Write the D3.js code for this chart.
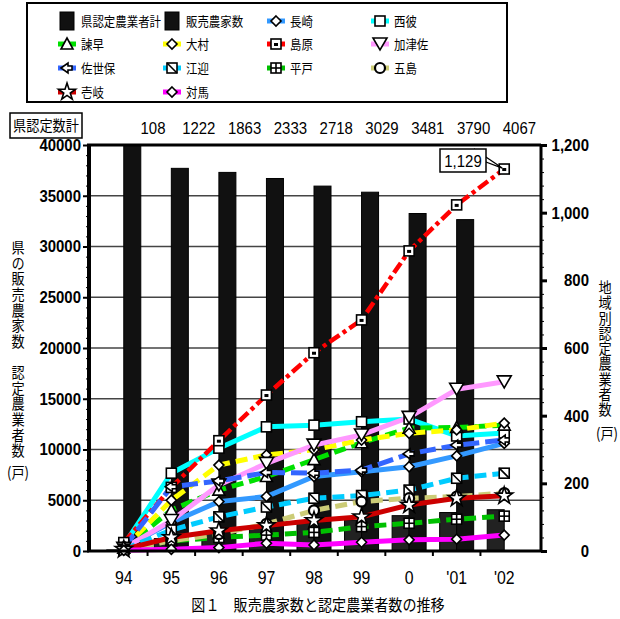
<!DOCTYPE html>
<html>
<head>
<meta charset="utf-8">
<script src="https://cdn.jsdelivr.net/npm/d3@7"></script>
<style>
  body { margin: 0; background: #fff; }
  text { font-family: "Liberation Sans", Arial, "Noto Sans CJK JP", sans-serif; }
  .jp { font-family: "Noto Sans CJK JP", sans-serif; }
  .vert { writing-mode: vertical-rl; text-orientation: upright; }
</style>
</head>
<body>
<svg id="chart" width="620" height="619"></svg>
<script>
// ---- data ----
const years = ["94", "95", "96", "97", "98", "99", "0", "'01", "'02"];
const certTotal = [108, 1222, 1863, 2333, 2718, 3029, 3481, 3790, 4067];
const salesFarms = [40000, 37700, 37300, 36700, 35950, 35350, 33250, 32650, null];

const nagasaki = [10, 84, 146, 161, 220, 234, 249, 281, 318];
const seihi = [17, 230, 304, 367, 372, 382, 390, 340, 349];
const isahaya = [8, 121, 180, 220, 270, 320, 363, 365, 372];
const omura = [8, 150, 254, 284, 299, 328, 348, 358, 378];
const shimabara = [25, 188, 326, 461, 586, 683, 887, 1023, 1129];
const kazusa = [8, 90, 195, 259, 313, 343, 395, 478, 500];
const sasebo = [10, 190, 207, 232, 230, 239, 287, 313, 328];
const emukae = [5, 62, 101, 130, 156, 164, 180, 215, 230];
const hirado = [5, 30, 40, 47, 55, 72, 82, 94, 103];
const goto = [5, 30, 50, 80, 120, 146, 156, 161, 171];
const iki = [5, 40, 60, 75, 90, 101, 136, 156, 163];
const tsushima = [2, 5, 10, 23, 18, 26, 33, 35, 47];

const leftTicks = [0, 5000, 10000, 15000, 20000, 25000, 30000, 35000, 40000];
const rightTicks = [0, 200, 400, 600, 800, 1000, 1200];

// ---- series table ----
let series = [
  { name: "長崎", values: nagasaki, color: "#3399ff", dash: null, marker: "diamond" },
  { name: "西彼", values: seihi, color: "#00ffff", dash: null, marker: "square" },
  { name: "諫早", values: isahaya, color: "#00e000", dash: "12,6", marker: "triUp" },
  { name: "大村", values: omura, color: "#ffff00", dash: "12,6", marker: "diamond" },
  { name: "島原", values: shimabara, color: "#ff0000", dash: "12,4,4,4", marker: "squareDot" },
  { name: "加津佐", values: kazusa, color: "#ff99ff", dash: null, marker: "triDown" },
  { name: "佐世保", values: sasebo, color: "#3366ff", dash: "16,6", marker: "arrow" },
  { name: "江迎", values: emukae, color: "#00ccff", dash: "12,6", marker: "squareSlash" },
  { name: "平戸", values: hirado, color: "#00c000", dash: "12,6", marker: "squareCross" },
  { name: "五島", values: goto, color: "#cccc77", dash: "12,6", marker: "octagon" },
  { name: "壱岐", values: iki, color: "#cc0000", dash: null, marker: "star" },
  { name: "対馬", values: tsushima, color: "#ff00ff", dash: null, marker: "diamond" }
];

const svg = d3.select('#chart');
const plot = { left: 89, right: 541, top: 145, bottom: 551 };

let x = d3.scaleBand().domain(years).range([100, 528]);
let yLeft = d3.scaleLinear().domain([0, 40000]).range([plot.bottom, plot.top]);
let yRight = d3.scaleLinear().domain([0, 1200]).range([plot.bottom, plot.top]);
const cx = d => x(d) + x.bandwidth() / 2;
const barW = 17;

// gridlines
svg.append('g').selectAll('line')
  .data(leftTicks.filter(t => t > 0 && t < 40000))
  .join('line')
  .attr('x1', plot.left).attr('x2', plot.right)
  .attr('y1', d => yLeft(d)).attr('y2', d => yLeft(d))
  .attr('stroke', '#444').attr('stroke-width', 1.6);

// bars
let bars = svg.append('g');
bars.selectAll('rect.cert')
  .data(years.map((y, i) => ({ y, v: certTotal[i] })))
  .join('rect').classed('cert', true)
  .attr('x', d => cx(d.y) - barW).attr('width', barW)
  .attr('y', d => yLeft(d.v)).attr('height', d => plot.bottom - yLeft(d.v))
  .attr('fill', '#222').attr('stroke', '#000').attr('stroke-width', 1);
bars.selectAll('rect.sales')
  .data(years.map((y, i) => ({ y, v: salesFarms[i] })).filter(d => d.v != null))
  .join('rect').classed('sales', true)
  .attr('x', d => cx(d.y)).attr('width', barW)
  .attr('y', d => yLeft(d.v)).attr('height', d => plot.bottom - yLeft(d.v))
  .attr('fill', '#111').attr('stroke', '#000').attr('stroke-width', 1);

// markers
function drawMarker(g, type, mx, my) {
  let m = g.append('g').attr('transform', `translate(${mx},${my})`);
  const st = s => s.attr('fill', '#fff').attr('stroke', '#000').attr('stroke-width', 1.6);
  if (type === 'diamond') {
    st(m.append('path').attr('d', 'M0,-5L5,0L0,5L-5,0Z'));
  } else if (type === 'square' || type === 'squareDot' || type === 'squareSlash' || type === 'squareCross') {
    st(m.append('rect').attr('x', -5).attr('y', -5).attr('width', 10).attr('height', 10));
    if (type === 'squareDot') m.append('rect').attr('x', -2).attr('y', -1).attr('width', 4).attr('height', 3).attr('fill', '#000');
    if (type === 'squareSlash') m.append('line').attr('x1', -5).attr('y1', -5).attr('x2', 5).attr('y2', 5).attr('stroke', '#000').attr('stroke-width', 1.6);
    if (type === 'squareCross') {
      m.append('line').attr('x1', 0).attr('y1', -5).attr('x2', 0).attr('y2', 5).attr('stroke', '#000').attr('stroke-width', 1.6);
      m.append('line').attr('x1', -5).attr('y1', 0).attr('x2', 5).attr('y2', 0).attr('stroke', '#000').attr('stroke-width', 1.6);
    }
  } else if (type === 'triUp') {
    st(m.append('path').attr('d', 'M0,-6L6,5L-6,5Z'));
  } else if (type === 'triDown') {
    st(m.append('path').attr('d', 'M-7,-6L7,-6L0,6Z'));
  } else if (type === 'arrow') {
    st(m.append('path').attr('d', 'M-6,0L1,-5L1,-2L5,-2L5,2L1,2L1,5Z'));
  } else if (type === 'octagon') {
    st(m.append('circle').attr('r', 5)).attr('stroke-width', 2.2);
  } else if (type === 'star') {
    st(m.append('path').attr('d', d3.symbol(d3.symbolStar, 90)()));
  }
}

// lines
let lineGen = d3.line().x(d => cx(d.y)).y(d => yRight(d.v));
let linesG = svg.append('g');
series.forEach(s => {
  let pts = years.map((y, i) => ({ y, v: s.values[i] }));
  linesG.append('path').datum(pts)
    .attr('d', lineGen)
    .attr('fill', 'none')
    .attr('stroke', s.color)
    .attr('stroke-width', s.name === '島原' ? 4.5 : 5)
    .attr('stroke-dasharray', s.dash);
});
series.forEach(s => {
  years.forEach((y, i) => drawMarker(linesG, s.marker, cx(y), yRight(s.values[i])));
});

// frame
svg.append('line').attr('x1', plot.left - 2).attr('x2', plot.right).attr('y1', plot.top).attr('y2', plot.top)
  .attr('stroke', '#000').attr('stroke-width', 3);

// left axis
let leftAxis = svg.append('g').attr('transform', `translate(${plot.left},0)`);
leftAxis.call(d3.axisLeft(yLeft).tickValues(d3.range(0, 40001, 1000)).tickSize(3).tickFormat(''))
  .call(g => g.select('.domain').remove());
leftAxis.append('g')
  .call(d3.axisLeft(yLeft).tickValues(leftTicks).tickSize(6).tickPadding(2).tickFormat(d3.format('d')))
  .call(g => g.select('.domain').remove())
  .call(g => g.selectAll('line').attr('stroke-width', 2))
  .call(g => g.selectAll('text').attr('font-size', 17).attr('font-weight', 'bold').attr('fill', '#000'));
leftAxis.append('line').attr('y1', plot.top - 1).attr('y2', plot.bottom + 1).attr('stroke', '#000').attr('stroke-width', 4);

// right axis
let rightAxis = svg.append('g').attr('transform', `translate(${plot.right},0)`);
rightAxis.call(d3.axisRight(yRight).tickValues(d3.range(0, 1201, 40)).tickSize(3).tickFormat(''))
  .call(g => g.select('.domain').remove());
rightAxis.append('g')
  .call(d3.axisRight(yRight).tickValues(rightTicks).tickSize(6).tickFormat(d3.format(',')))
  .call(g => g.select('.domain').remove())
  .call(g => g.selectAll('line').attr('stroke-width', 3))
  .call(g => g.selectAll('text').attr('x', 48).attr('text-anchor', 'end')
    .attr('font-size', 17).attr('font-weight', 'bold').attr('fill', '#000'));
rightAxis.append('line').attr('y1', plot.top - 1).attr('y2', plot.bottom + 1).attr('stroke', '#000').attr('stroke-width', 3);

// bottom axis
let bottomAxis = svg.append('g').attr('transform', `translate(0,${plot.bottom})`);
bottomAxis.selectAll('line.tk')
  .data(years.slice(1))
  .join('line').classed('tk', true)
  .attr('x1', d => x(d)).attr('x2', d => x(d))
  .attr('y1', 0).attr('y2', 5)
  .attr('stroke', '#000').attr('stroke-width', 2);
bottomAxis.append('line').attr('x1', plot.left - 2).attr('x2', plot.right + 1).attr('stroke', '#000').attr('stroke-width', 3);
bottomAxis.selectAll('text')
  .data(years)
  .join('text')
  .attr('x', d => cx(d)).attr('y', 33)
  .attr('text-anchor', 'middle').attr('font-size', 18)
  .text(d => d);

// data label for the last 島原 point
let lastX = cx(years[8]), lastY = yRight(shimabara[8]);
let callout = svg.append('g');
callout.append('path')
  .attr('d', `M474,149L${lastX - 2},${lastY - 1}L486,162Z`)
  .attr('fill', '#fff').attr('stroke', '#000').attr('stroke-width', 1.3);
callout.append('rect').attr('x', 440).attr('y', 149).attr('width', 46).attr('height', 23)
  .attr('fill', '#fff').attr('stroke', '#000').attr('stroke-width', 1.5);
callout.append('text').attr('x', 463).attr('y', 167).attr('text-anchor', 'middle')
  .attr('font-size', 17).text(d3.format(',')(shimabara[8]));

// certified totals row
svg.append('rect').attr('x', 10).attr('y', 113).attr('width', 72).attr('height', 25)
  .attr('fill', '#fff').attr('stroke', '#000').attr('stroke-width', 1.5);
svg.append('text').attr('class', 'jp').attr('x', 46).attr('y', 131).attr('text-anchor', 'middle')
  .attr('font-size', 15).text('県認定数計');
svg.append('g').selectAll('text')
  .data(certTotal)
  .join('text')
  .attr('x', (d, i) => 153 + i * 45.8).attr('y', 134)
  .attr('text-anchor', 'middle').attr('font-size', 17)
  .text(d => d);

// axis titles, written vertically (textLength pins the stacked height)
svg.append('text').attr('class', 'jp vert')
  .attr('x', 18).attr('y', 240)
  .attr('font-size', 15)
  .attr('textLength', 218).attr('lengthAdjust', 'spacing')
  .text('県の販売農家数　認定農業者数');
svg.append('text').attr('class', 'jp').attr('x', 18).attr('y', 478).attr('text-anchor', 'middle')
  .attr('font-size', 15).text('(戸)');

svg.append('text').attr('class', 'jp vert')
  .attr('x', 605).attr('y', 280)
  .attr('font-size', 15)
  .attr('textLength', 137).attr('lengthAdjust', 'spacing')
  .text('地域別認定農業者数');
svg.append('text').attr('class', 'jp').attr('x', 607).attr('y', 439).attr('text-anchor', 'middle')
  .attr('font-size', 15).text('(戸)');

// caption
svg.append('text').attr('class', 'jp').attr('x', 318).attr('y', 611).attr('text-anchor', 'middle')
  .attr('font-size', 16).text('図１　販売農家数と認定農業者数の推移');

// legend
svg.append('rect').attr('x', 27).attr('y', 3).attr('width', 480).attr('height', 99)
  .attr('fill', '#fff').attr('stroke', '#000').attr('stroke-width', 2);
const legendCols = [67, 172, 276, 380];
const legendRows = [21, 44, 68, 92];
let legendItems = [
  { name: "県認定農業者計", bar: true },
  { name: "販売農家数", bar: true }
].concat(series);
let legend = svg.append('g');
legendItems.forEach((item, i) => {
  let lx = legendCols[i % 4], ly = legendRows[Math.floor(i / 4)];
  if (item.bar) {
    legend.append('rect').attr('x', lx - 7).attr('y', ly - 9).attr('width', 14).attr('height', 18)
      .attr('fill', '#111').attr('stroke', '#000');
  } else {
    legend.append('line').attr('x1', lx - 9).attr('x2', lx + 9).attr('y1', ly).attr('y2', ly)
      .attr('stroke', item.color).attr('stroke-width', 5);
    drawMarker(legend, item.marker, lx, ly);
  }
  legend.append('text').attr('class', 'jp').attr('x', lx + 14).attr('y', ly + 5)
    .attr('font-size', 13).text(item.name);
});

// squeeze all text horizontally a bit, like the source picture
svg.selectAll('text').each(function () {
  let t = d3.select(this);
  let tx = +t.attr('x') || 0, ty = +t.attr('y') || 0;
  t.attr('x', null).attr('y', null)
    .attr('transform', `translate(${tx},${ty}) scale(0.88,1)`);
});
</script>
</body>
</html>
